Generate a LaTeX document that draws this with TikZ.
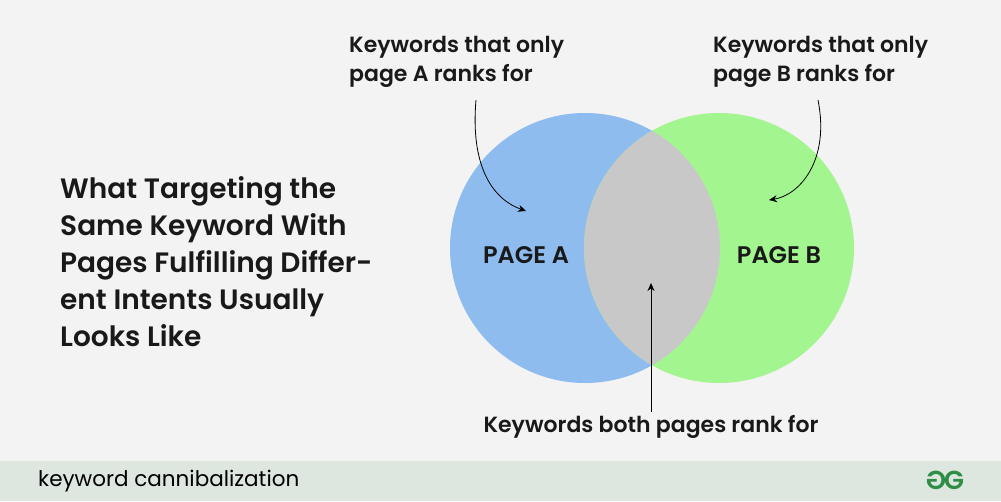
\documentclass[tikz,border=0pt]{standalone}
\usepackage{fontspec}
\setmainfont{Poppins}[BoldFont={Poppins SemiBold}]
\usetikzlibrary{arrows.meta}
\definecolor{bg}{HTML}{F3F3F3}
\definecolor{bar}{HTML}{DDE7DF}
\definecolor{ca}{HTML}{8EBCEF}
\definecolor{cb}{HTML}{A3F58F}
\definecolor{cab}{HTML}{C8C8C8}
\definecolor{gg}{HTML}{2F8D46}
\tikzset{lbl/.style={align=left, text=black!90, inner sep=0pt},
arr/.style={-{Stealth[length=8pt,width=7pt]}, line width=0.8pt}}
\begin{document}
\begin{tikzpicture}[x=1pt,y=-1pt]
\fill[bg] (0,0) rectangle (1001,501);
\useasboundingbox (0,0) rectangle (1001,501);
\fill[bar] (0,461) rectangle (1001,501);
\node[anchor=west, inner sep=0pt, font=\fontsize{21.5}{24}\selectfont] (foot) at (38,481) {keyword cannibalization};
\fill[ca] (585,248) circle (135);
\fill[cb] (719,248) circle (135);
\begin{scope}
\clip (585,248) circle (135);
\fill[cab] (719,248) circle (135);
\end{scope}
\node[lbl, font=\fontsize{24}{24}\selectfont\bfseries] (pa) at (526,255) {PAGE A};
\node[lbl, font=\fontsize{24}{24}\selectfont\bfseries] (pb) at (779,255) {PAGE B};
\node[lbl, anchor=west, font=\fontsize{28}{37}\selectfont\bfseries] (title) at (60,262) {What Targeting the\\Same Keyword With\\Pages Fulfilling Differ-\\ent Intents Usually\\Looks Like};
\node[lbl, anchor=west, font=\fontsize{22}{29}\selectfont\bfseries] (ta) at (349,62) {Keywords that only\\page A ranks for};
\node[lbl, anchor=west, font=\fontsize{22}{29}\selectfont\bfseries] (tb) at (713,62) {Keywords that only\\page B ranks for};
\node[lbl, font=\fontsize{22}{24}\selectfont\bfseries] (tc) at (651,427) {Keywords both pages rank for};
\coordinate (ea) at (526,211);
\coordinate (eb) at (769,200);
\coordinate (ec) at (651,283);
\draw[arr] (476,100) .. controls (470,170) and (495,200) .. (ea);
\draw[arr] (818,100) .. controls (830,160) and (800,195) .. (eb);
\draw[arr] (651,412) -- (ec);
\node[text=gg, font=\fontsize{26}{26}\selectfont\bfseries] (logo) at (945,480) {\scalebox{-1}[1]{G}\kern-2pt G};
\end{tikzpicture}
\end{document}
